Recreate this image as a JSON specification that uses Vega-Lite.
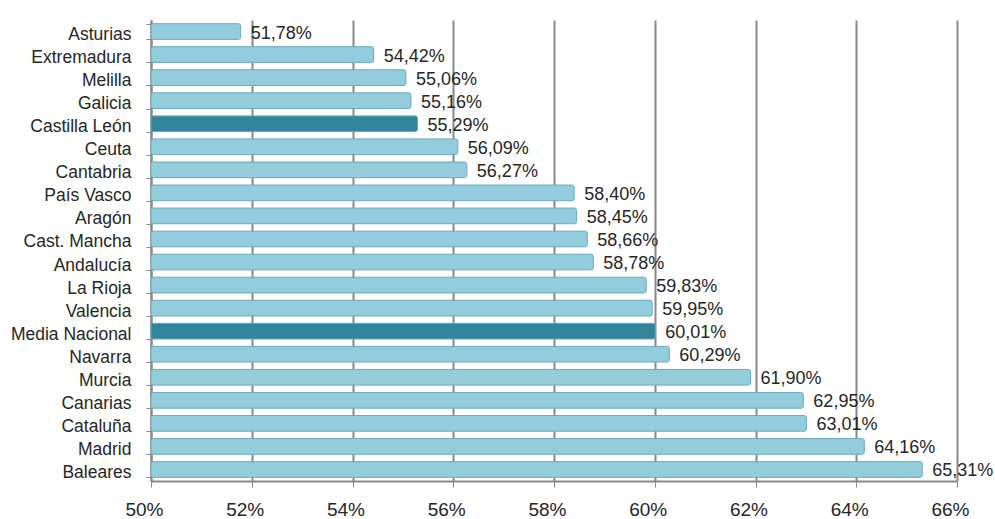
{
  "$schema": "https://vega.github.io/schema/vega-lite/v6.json",
  "autosize": "none",
  "width": 806,
  "height": 461,
  "padding": {"left": 151, "top": 20, "right": 38, "bottom": 38},
  "background": "white",
  "config": {
    "view": {"stroke": null},
    "font": "Liberation Sans"
  },
  "data": {
    "values": [
      {"region": "Asturias", "value": 51.78, "label": "51,78%", "group": "normal"},
      {"region": "Extremadura", "value": 54.42, "label": "54,42%", "group": "normal"},
      {"region": "Melilla", "value": 55.06, "label": "55,06%", "group": "normal"},
      {"region": "Galicia", "value": 55.16, "label": "55,16%", "group": "normal"},
      {"region": "Castilla León", "value": 55.29, "label": "55,29%", "group": "destacado"},
      {"region": "Ceuta", "value": 56.09, "label": "56,09%", "group": "normal"},
      {"region": "Cantabria", "value": 56.27, "label": "56,27%", "group": "normal"},
      {"region": "País Vasco", "value": 58.40, "label": "58,40%", "group": "normal"},
      {"region": "Aragón", "value": 58.45, "label": "58,45%", "group": "normal"},
      {"region": "Cast. Mancha", "value": 58.66, "label": "58,66%", "group": "normal"},
      {"region": "Andalucía", "value": 58.78, "label": "58,78%", "group": "normal"},
      {"region": "La Rioja", "value": 59.83, "label": "59,83%", "group": "normal"},
      {"region": "Valencia", "value": 59.95, "label": "59,95%", "group": "normal"},
      {"region": "Media Nacional", "value": 60.01, "label": "60,01%", "group": "destacado"},
      {"region": "Navarra", "value": 60.29, "label": "60,29%", "group": "normal"},
      {"region": "Murcia", "value": 61.90, "label": "61,90%", "group": "normal"},
      {"region": "Canarias", "value": 62.95, "label": "62,95%", "group": "normal"},
      {"region": "Cataluña", "value": 63.01, "label": "63,01%", "group": "normal"},
      {"region": "Madrid", "value": 64.16, "label": "64,16%", "group": "normal"},
      {"region": "Baleares", "value": 65.31, "label": "65,31%", "group": "normal"}
    ]
  },
  "encoding": {
    "y": {
      "field": "region",
      "type": "nominal",
      "sort": null,
      "scale": {"paddingInner": 0.32, "paddingOuter": 0.16},
      "axis": {
        "title": null,
        "domain": true,
        "domainColor": "#888888",
        "domainWidth": 2,
        "ticks": true,
        "tickColor": "#888888",
        "tickSize": 5,
        "tickBand": "extent",
        "labelFont": "Liberation Sans",
        "labelFontSize": 17.5,
        "labelColor": "#262626",
        "labelPadding": 15,
        "labelOffset": 3,
        "grid": false
      }
    }
  },
  "layer": [
    {
      "mark": {"type": "bar", "cornerRadius": 2, "stroke": "#6aaabb", "strokeWidth": 1},
      "encoding": {
        "x": {
          "field": "value",
          "type": "quantitative",
          "scale": {"domain": [50, 66], "zero": false, "nice": false},
          "axis": {
            "title": null,
            "values": [50, 52, 54, 56, 58, 60, 62, 64, 66],
            "labelExpr": "datum.value + '%'",
            "labelFont": "Liberation Sans",
            "labelFontSize": 19,
            "labelColor": "#262626",
            "labelPadding": 13,
            "labelOffset": -7,
            "labelFlush": false,
            "labelBound": false,
            "domain": true,
            "domainColor": "#888888",
            "domainWidth": 2,
            "ticks": true,
            "tickColor": "#888888",
            "tickSize": 6,
            "grid": true,
            "gridColor": "#888888",
            "gridWidth": 2
          }
        },
        "x2": {"datum": 50},
        "color": {
          "field": "group",
          "type": "nominal",
          "scale": {"domain": ["normal", "destacado"], "range": ["#93cddd", "#31849b"]},
          "legend": null
        }
      }
    },
    {
      "mark": {"type": "text", "align": "left", "baseline": "middle", "dx": 10, "dy": 2, "font": "Liberation Sans", "fontSize": 18, "color": "#262626"},
      "encoding": {
        "x": {"field": "value", "type": "quantitative"},
        "text": {"field": "label"}
      }
    }
  ]
}
